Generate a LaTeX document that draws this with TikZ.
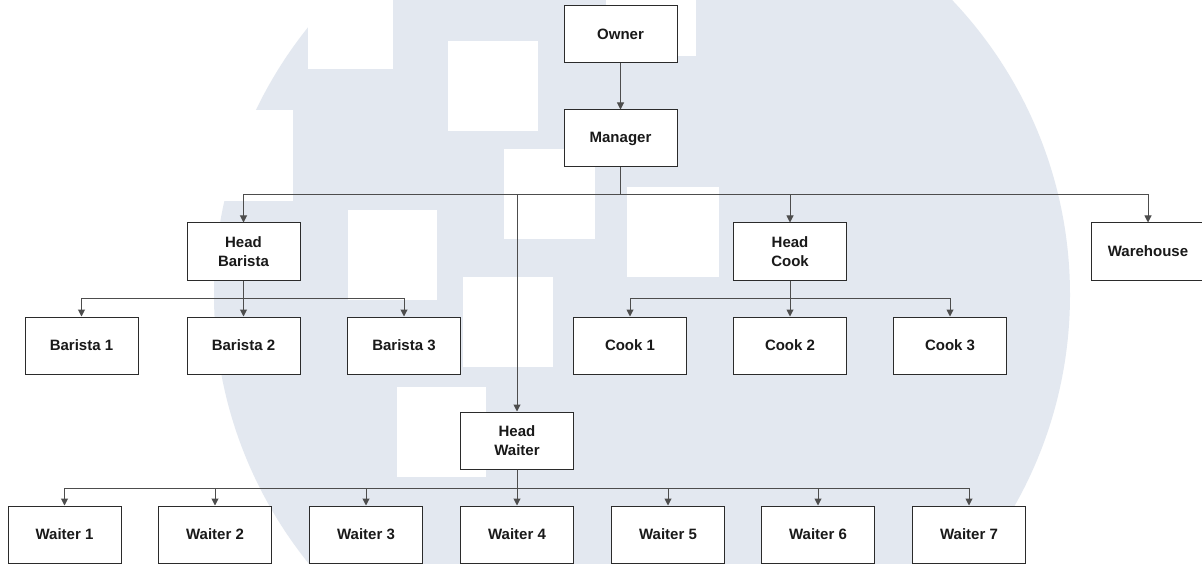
\documentclass[tikz,border=0pt]{standalone}
\usepackage{fontspec}
\setmainfont{Liberation Sans}
\usetikzlibrary{arrows.meta}
\definecolor{wm}{HTML}{E3E8F0}
\definecolor{boxline}{HTML}{2B2B2B}
\definecolor{conn}{HTML}{4D4D4D}
\begin{document}
\begin{tikzpicture}[x=1pt,y=-1pt,
  box/.style={draw=boxline, line width=1pt, fill=white, minimum width=113pt, minimum height=57pt, inner sep=0pt, align=center, font=\bfseries\fontsize{15}{18.5}\selectfont, text=black!90},
  arr/.style={draw=conn, line width=1pt, -{Triangle[width=7pt,length=7pt]}},
  wmsq/.style={fill=white}]
\useasboundingbox (0,0) rectangle (1202,564);
% watermark
\begin{scope}
\clip (0,0) rectangle (1202,564);
\fill[white] (0,0) rectangle (1202,564);
\fill[wm] (642,295) circle (428pt);
\fill[wmsq] (308,-1) rectangle (393,69);
\fill[wmsq] (448,41) rectangle (538,131);
\fill[wmsq] (504,149) rectangle (595,239);
\fill[wmsq] (348,210) rectangle (437,300);
\fill[wmsq] (463,277) rectangle (553,367);
\fill[wmsq] (397,387) rectangle (486,477);
\fill[wmsq] (627,187) rectangle (719,277);
\fill[wmsq] (606,-1) rectangle (696,56);
\fill[wmsq] (-1,110) rectangle (293,201);
\end{scope}
% nodes
\node[box] (owner) at (620.5,34.5) {Owner};
\node[box] (mgr) at (620.5,138.5) {Manager};
\node[box] (hb) at (243.5,251.5) {Head\\Barista};
\node[box] (hc) at (790,251.5) {Head\\Cook};
\node[box] (wh) at (1148,251.5) {Warehouse};
\node[box] (b1) at (81.5,345.5) {Barista 1};
\node[box] (b2) at (243.5,345.5) {Barista 2};
\node[box] (b3) at (404,345.5) {Barista 3};
\node[box] (c1) at (630,345.5) {Cook 1};
\node[box] (c2) at (790,345.5) {Cook 2};
\node[box] (c3) at (950,345.5) {Cook 3};
\node[box] (hw) at (517,440.5) {Head\\Waiter};
\node[box] (w1) at (64.5,534.5) {Waiter 1};
\node[box] (w2) at (215,534.5) {Waiter 2};
\node[box] (w3) at (366,534.5) {Waiter 3};
\node[box] (w4) at (517,534.5) {Waiter 4};
\node[box] (w5) at (668,534.5) {Waiter 5};
\node[box] (w6) at (818,534.5) {Waiter 6};
\node[box] (w7) at (969,534.5) {Waiter 7};
% junctions
\coordinate (j0) at (620.5,195);
\coordinate (jw) at (517,195);
\coordinate (jb) at (243.5,298);
\coordinate (jc) at (790,298);
\coordinate (jwt) at (517,488);
% connectors
\draw[arr] (owner) -- (mgr);
\draw[arr] (mgr.south) -- (j0) -| (hb.north);
\draw[arr] (mgr.south) -- (j0) -| (hc.north);
\draw[arr] (mgr.south) -- (j0) -| (wh.north);
\draw[arr] (mgr.south) -- (j0) -- (jw) -- (hw.north);
\draw[arr] (hb.south) -- (jb) -| (b1.north);
\draw[arr] (hb.south) -- (b2.north);
\draw[arr] (hb.south) -- (jb) -| (b3.north);
\draw[arr] (hc.south) -- (jc) -| (c1.north);
\draw[arr] (hc.south) -- (c2.north);
\draw[arr] (hc.south) -- (jc) -| (c3.north);
\draw[arr] (hw.south) -- (jwt) -| (w1.north);
\draw[arr] (hw.south) -- (jwt) -| (w2.north);
\draw[arr] (hw.south) -- (jwt) -| (w3.north);
\draw[arr] (hw.south) -- (w4.north);
\draw[arr] (hw.south) -- (jwt) -| (w5.north);
\draw[arr] (hw.south) -- (jwt) -| (w6.north);
\draw[arr] (hw.south) -- (jwt) -| (w7.north);
\end{tikzpicture}
\end{document}
